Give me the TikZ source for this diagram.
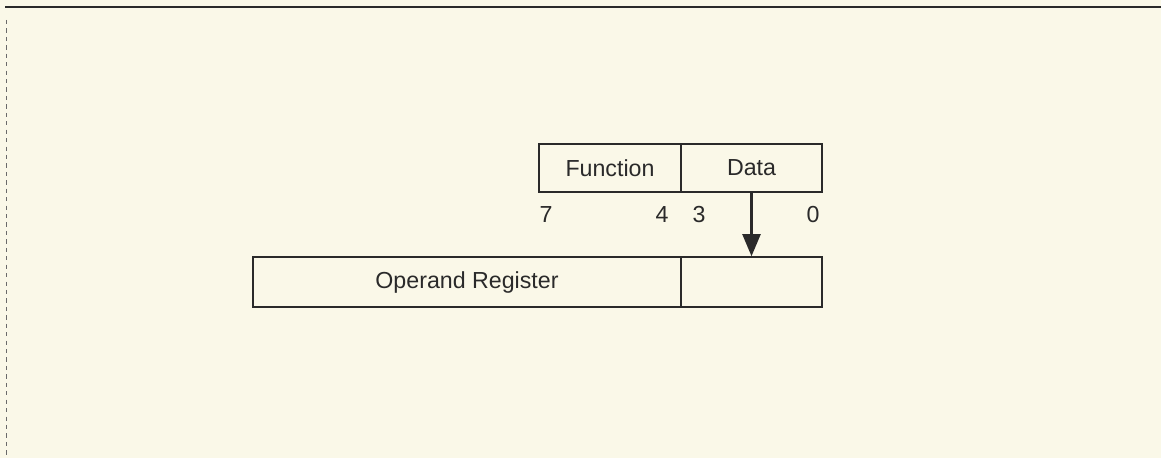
\documentclass[tikz,border=0pt]{standalone}
\usepackage{fontspec}
\setmainfont{Liberation Sans}
\usetikzlibrary{arrows.meta}
\definecolor{paper}{HTML}{FAF8E8}
\definecolor{ink}{HTML}{2A2A2A}
\begin{document}
\begin{tikzpicture}[
    x=0.025cm, y=-0.025cm,
    field/.style = {draw=ink, line width=1.1pt, inner sep=0pt,
                minimum height=#1, text=ink,
                font=\fontsize{16.5}{19}\selectfont},
    field/.default = 1.2cm,  % height of a register field
    bit/.style = {text=ink, inner sep=0pt,
                font=\fontsize{16.5}{19}\selectfont}
                    ]
    \def\fw{3.55cm}
    \def\dw{3.525cm}
    \def\rw{10.7cm}
    \def\ty{168}
    \def\by{282}
    \def\ly{215}
    \fill[paper] (0,0) rectangle (1161,458);
    \useasboundingbox (0,0) rectangle (1161,458);
    \draw[color=ink,line width=1pt] (5,7) -- (1161,7);
    \draw[color=ink!70,line width=0.5pt,dashed] (6,20) -- (6,458);
    \node[field,minimum width=\fw] at (610,\ty) (fn) {Function};
    \node[field,minimum width=\dw] at (751.5,\ty) (data) {Data};
    \node[field=1.25cm,minimum width=\rw] at (467,\by) (opreg) {Operand Register};
    \node[field=1.25cm,minimum width=\dw] at (751.5,\by) (low) {};
    \node[bit] at (546,\ly) (b7) {7};
    \node[bit] at (662,\ly) (b4) {4};
    \node[bit] at (699,\ly) (b3) {3};
    \node[bit] at (813,\ly) (b0) {0};
    \draw[color=ink,line width=1.5pt,-{Triangle[width=4.5mm,length=5.5mm]}] (data) -- (low);
\end{tikzpicture}
\end{document}
